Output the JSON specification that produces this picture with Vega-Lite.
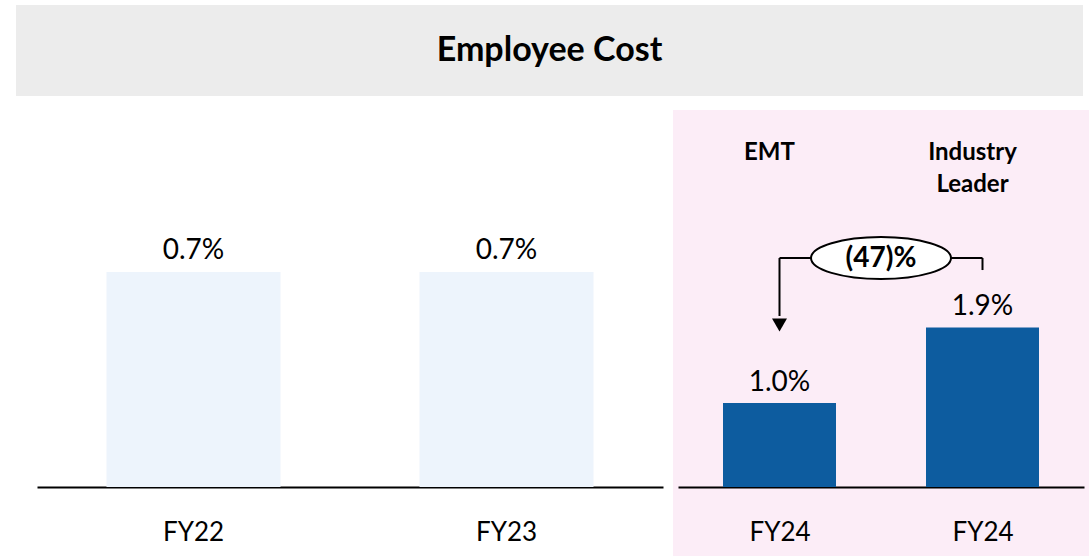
{
  "$schema": "https://vega.github.io/schema/vega-lite/v6.json",
  "padding": {"left": 16, "top": 5, "right": 0, "bottom": 0},
  "config": {"font": "Lato", "view": {"stroke": null}},
  "spacing": 14,
  "vconcat": [
    {
      "width": 1067,
      "height": 91,
      "view": {"fill": "#ececec", "stroke": null},
      "data": {"values": [{"title": "Employee Cost"}]},
      "mark": {"type": "text", "fontWeight": "bold", "fontSize": 34, "color": "#000000", "baseline": "middle", "align": "center"},
      "encoding": {"text": {"field": "title"}}
    },
    {
      "spacing": 10,
      "hconcat": [
        {
          "width": 647,
          "height": 446,
          "data": {"values": [{"year": "FY22", "value": 0.007}, {"year": "FY23", "value": 0.007}]},
          "encoding": {
            "x": {
              "field": "year", "type": "nominal", "sort": null,
              "scale": {"range": [21, 647], "paddingInner": 0.444, "paddingOuter": 0.222},
              "axis": {"title": null, "orient": "bottom", "offset": -69, "domainColor": "#000000", "domainWidth": 2, "ticks": false, "labelPadding": 53, "labelBaseline": "alphabetic", "labelFontSize": 26, "labelColor": "#000000", "labelAngle": 0}
            },
            "y": {
              "field": "value", "type": "quantitative",
              "scale": {"domain": [-0.002247, 0.012275], "nice": false},
              "axis": null
            }
          },
          "layer": [
            {"mark": {"type": "bar", "color": "#edf4fc"}},
            {"mark": {"type": "text", "baseline": "alphabetic", "dy": -13, "fontSize": 28, "color": "#000000"},
             "encoding": {"text": {"field": "value", "format": ".1%"}}}
          ]
        },
        {
          "width": 416,
          "height": 446,
          "view": {"fill": "#fcedf7", "stroke": null},
          "data": {"values": [{"year": "FY24", "entity": "EMT", "value": 0.010, "change": "(47)%"}, {"year": "FY24", "entity": "Industry Leader", "value": 0.019, "change": "(47)%"}]},
          "encoding": {
            "x": {
              "field": "entity", "type": "nominal",
              "scale": {"type": "point", "domain": ["EMT", "gap", "Industry Leader"], "range": [5, 411], "padding": 1},
              "axis": {"title": null, "orient": "bottom", "offset": -69, "domainColor": "#000000", "domainWidth": 2, "ticks": false, "labelPadding": 53, "labelBaseline": "alphabetic", "labelFontSize": 26, "labelColor": "#000000", "labelAngle": 0, "labelExpr": "datum.value == 'gap' ? '' : 'FY24'"}
            },
            "y": {
              "field": "value", "type": "quantitative",
              "scale": {"domain": [-0.00821, 0.04488], "nice": false},
              "axis": null
            }
          },
          "layer": [
            {"mark": {"type": "bar", "width": 113, "color": "#0d5c9f"}},
            {"mark": {"type": "text", "baseline": "alphabetic", "dy": -12, "fontSize": 28, "color": "#000000"},
             "encoding": {"text": {"field": "value", "format": ".1%"}}},
            {"mark": {"type": "text", "baseline": "middle", "dx": -10, "fontSize": 24, "fontWeight": "bold", "lineBreak": " ", "lineHeight": 32, "color": "#000000"},
             "encoding": {"text": {"field": "entity"}, "y": {"datum": 0.0398}}},
            {"transform": [{"filter": "datum.entity == 'EMT'"}],
             "mark": {"type": "rule", "color": "#000000", "strokeWidth": 2},
             "encoding": {"x": {"datum": "EMT"}, "y": {"datum": 0.02726}, "y2": {"datum": 0.02036}}},
            {"transform": [{"filter": "datum.entity == 'EMT'"}],
             "mark": {"type": "rule", "color": "#000000", "strokeWidth": 2},
             "encoding": {"x": {"datum": "EMT"}, "x2": {"datum": "Industry Leader"}, "y": {"datum": 0.02726}}},
            {"transform": [{"filter": "datum.entity == 'EMT'"}],
             "mark": {"type": "rule", "color": "#000000", "strokeWidth": 2},
             "encoding": {"x": {"datum": "Industry Leader"}, "y": {"datum": 0.02726}, "y2": {"datum": 0.02583}}},
            {"transform": [{"filter": "datum.entity == 'EMT'"}],
             "mark": {"type": "point", "shape": "triangle-down", "size": 225, "filled": true, "color": "#000000", "opacity": 1, "strokeWidth": 0},
             "encoding": {"x": {"datum": "EMT"}, "y": {"datum": 0.0193}}},
            {"transform": [{"filter": "datum.entity == 'EMT'"}],
             "mark": {"type": "point", "shape": "M-1,0A1,0.3,0,1,0,1,0A1,0.3,0,1,0,-1,0Z", "size": 19600, "filled": false, "fill": "#ffffff", "stroke": "#000000", "strokeWidth": 2, "opacity": 1, "fillOpacity": 1},
             "encoding": {"x": {"datum": "gap"}, "y": {"datum": 0.02726}}},
            {"transform": [{"filter": "datum.entity == 'EMT'"}],
             "mark": {"type": "text", "baseline": "middle", "fontSize": 28, "fontWeight": "bold", "color": "#000000"},
             "encoding": {"text": {"field": "change"}, "x": {"datum": "gap"}, "y": {"datum": 0.0271}}}
          ]
        }
      ]
    }
  ]
}
